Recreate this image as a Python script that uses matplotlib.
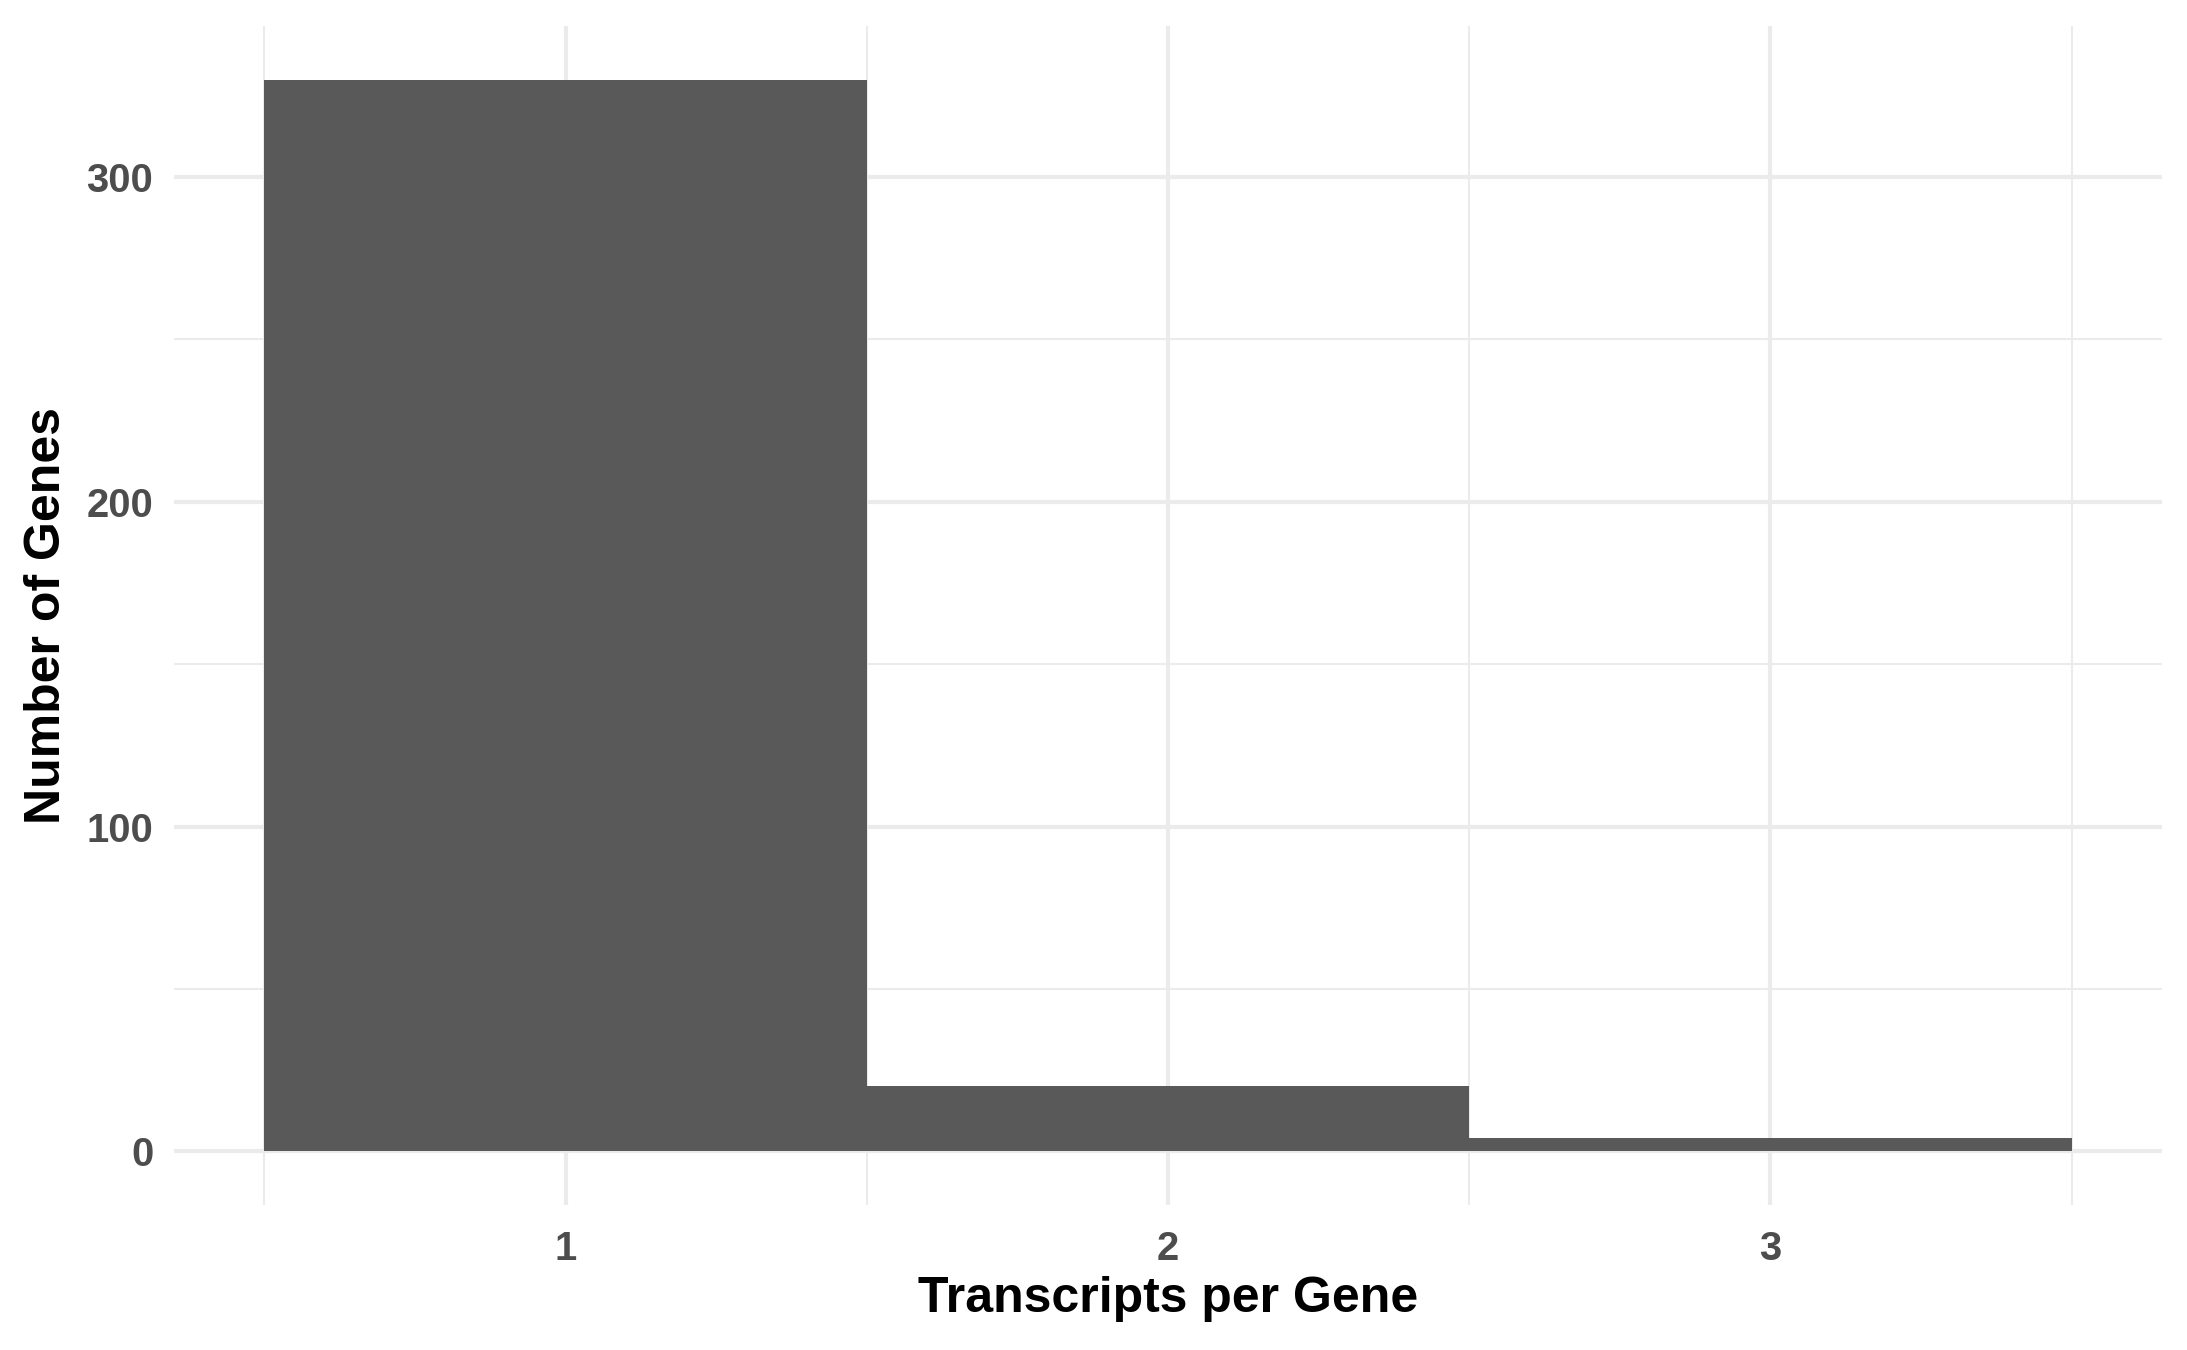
import numpy as np
import matplotlib
matplotlib.use("Agg")
import matplotlib.pyplot as plt

# ------------------------------------------------------------
#  data
# ------------------------------------------------------------
transcripts_per_gene = [1, 2, 3]
n_genes = [330, 20, 4]
y_ticks = [0, 100, 200, 300]

BAR_COLOR  = '#595959'
GRID_COLOR = '#EBEBEB'
TICK_COLOR = '#4D4D4D'

plt.rcParams['font.family'] = ['Liberation Sans', 'DejaVu Sans']

fig = plt.figure(figsize=(2187 / 300, 1350 / 300), dpi=300)
ax = fig.add_axes([174 / 2187, 1 - 1205 / 1350, (2162 - 174) / 2187, (1205 - 26) / 1350])

ax.bar(transcripts_per_gene, n_genes, width=1.0, color=BAR_COLOR,
       linewidth=0, zorder=3)

# ggplot-style limits with 5% expansion
x_lo = min(transcripts_per_gene) - 0.5
x_hi = max(transcripts_per_gene) + 0.5
pad_x = 0.05 * (x_hi - x_lo)
ax.set_xlim(x_lo - pad_x, x_hi + pad_x)
ax.set_ylim(-0.05 * max(n_genes), 1.05 * max(n_genes))

ax.set_xticks(transcripts_per_gene)
ax.set_yticks(y_ticks)
ax.set_xticks(np.arange(x_lo, x_hi + 0.01, 1.0), minor=True)
ax.set_yticks([50, 150, 250], minor=True)

ax.grid(True, which='major', color=GRID_COLOR, lw=1.0, zorder=0)
ax.grid(True, which='minor', color=GRID_COLOR, lw=0.5, zorder=0)
ax.tick_params(which='both', length=0)
ax.tick_params(axis='x', pad=6)
ax.tick_params(axis='y', pad=5)
for lbl in ax.get_xticklabels() + ax.get_yticklabels():
    lbl.set_fontsize(9.6)
    lbl.set_fontweight('bold')
    lbl.set_color(TICK_COLOR)

for s in ax.spines.values():
    s.set_visible(False)

ax.set_xlabel('Transcripts per Gene', fontsize=12, fontweight='bold',
              color='black', labelpad=2)
ax.set_ylabel('Number of Genes', fontsize=12, fontweight='bold',
              color='black', labelpad=4)

fig.savefig('out.png', dpi=300)
